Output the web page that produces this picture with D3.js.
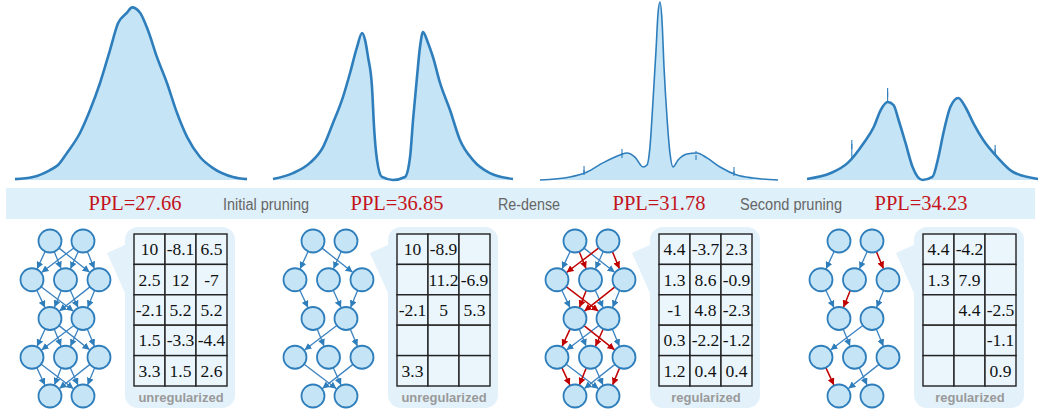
<!DOCTYPE html>
<html>
<head>
<meta charset="utf-8">
<script src="https://cdn.jsdelivr.net/npm/d3@7"></script>
<style>
  body { margin: 0; background: #fff; }
  svg { display: block; }
</style>
</head>
<body>
<svg id="fig" width="1039" height="412"></svg>
<script>
// weight distributions, [weight, density]
var dist1 = [[-1,0.005],[-0.845,0.017],[-0.698,0.056],[-0.629,0.084],[-0.552,0.152],[-0.44,0.264],[-0.353,0.393],[-0.267,0.545],[-0.181,0.73],[-0.112,0.88],[-0.034,0.94],[0.009,0.97],[0.078,0.94],[0.147,0.84],[0.224,0.69],[0.31,0.545],[0.397,0.376],[0.483,0.242],[0.595,0.129],[0.707,0.067],[0.879,0.017],[1,0.005]];
var dist2 = [[-1,0.006],[-0.833,0.039],[-0.692,0.096],[-0.583,0.185],[-0.5,0.32],[-0.417,0.466],[-0.358,0.601],[-0.3,0.747],[-0.258,0.826],[-0.233,0.787],[-0.208,0.691],[-0.175,0.522],[-0.158,0.298],[-0.133,0.112],[-0.092,0.017],[0,0.0],[0.1,0.017],[0.142,0.129],[0.167,0.337],[0.2,0.579],[0.225,0.747],[0.25,0.831],[0.292,0.77],[0.333,0.691],[0.392,0.545],[0.475,0.393],[0.558,0.225],[0.667,0.112],[0.808,0.039],[1,0.006]];
var dist3 = [[-1,0],[-0.748,0.017],[-0.605,0.045],[-0.471,0.096],[-0.328,0.14],[-0.269,0.152],[-0.202,0.129],[-0.134,0.073],[-0.101,0.084],[-0.076,0.185],[-0.05,0.449],[-0.025,0.73],[-0.008,0.938],[0.008,1.0],[0.025,0.899],[0.042,0.635],[0.067,0.354],[0.092,0.152],[0.118,0.073],[0.16,0.112],[0.235,0.146],[0.319,0.152],[0.403,0.124],[0.513,0.073],[0.655,0.028],[0.79,0.011],[1,0]];
var dist4 = [[-1,0.006],[-0.793,0.039],[-0.647,0.096],[-0.509,0.208],[-0.422,0.298],[-0.362,0.393],[-0.302,0.438],[-0.25,0.421],[-0.207,0.337],[-0.147,0.208],[-0.086,0.073],[0,0],[0.086,0.017],[0.138,0.129],[0.181,0.264],[0.241,0.41],[0.31,0.461],[0.371,0.41],[0.44,0.32],[0.526,0.225],[0.647,0.129],[0.784,0.045],[1,0.006]];
// isolated spikes in the histograms, [weight, top density]
var spikes3 = [[-0.63,0.079],[-0.311,0.174],[0.311,0.163],[0.63,0.073]];
var spikes4 = [[-0.612,0.225],[-0.302,0.517],[0.629,0.197]];

var pplValues = ["27.66", "36.85", "31.78", "34.23"];
var stageLabels = ["Initial pruning", "Re-dense", "Second pruning"];
var matrixTags = ["unregularized", "unregularized", "regularized", "regularized"];

// weight matrices (empty string = pruned)
var mat1 = [["10","-8.1","6.5"],["2.5","12","-7"],["-2.1","5.2","5.2"],["1.5","-3.3","-4.4"],["3.3","1.5","2.6"]];
var mat2 = [["10","-8.9",""],["","11.2","-6.9"],["-2.1","5","5.3"],["","",""],["3.3","",""]];
var mat3 = [["4.4","-3.7","2.3"],["1.3","8.6","-0.9"],["-1","4.8","-2.3"],["0.3","-2.2","-1.2"],["1.2","0.4","0.4"]];
var mat4 = [["4.4","-4.2",""],["1.3","7.9",""],["","4.4","-2.5"],["","","-1.1"],["","","0.9"]];

// network layers and edges: [fromLayer, fromNode, toNode, red?]
var layerSizes = [2, 3, 2, 3, 2];
var edges1 = [];
layerSizes.slice(0, 4).forEach(function(n, l) {
  for (var a = 0; a < n; a++)
    for (var b = 0; b < layerSizes[l + 1]; b++) edges1.push([l, a, b, 0]);
});
var edges2 = [[0,0,0,0],[0,0,2,0],[0,1,1,0],[1,0,0,0],[1,1,1,0],[1,2,1,0],[2,0,1,0],[2,1,0,0],[2,1,2,0],[3,0,1,0],[3,1,1,0],[3,2,0,0]];
var edges3 = [[0,0,0,0],[0,0,1,1],[0,0,2,0],[0,1,0,1],[0,1,1,0],[0,1,2,1],
              [1,0,0,0],[1,0,1,1],[1,1,0,1],[1,1,1,0],[1,2,0,1],[1,2,1,0],
              [2,0,0,1],[2,0,1,0],[2,0,2,1],[2,1,0,0],[2,1,1,1],[2,1,2,0],
              [3,0,0,1],[3,0,1,0],[3,1,0,1],[3,1,1,0],[3,2,0,0],[3,2,1,1]];
var edges4 = [[0,0,0,0],[0,1,1,0],[0,1,2,1],[1,0,0,0],[1,1,0,1],[1,2,1,0],[2,1,0,0],[2,0,1,0],[2,1,2,0],[3,0,0,1],[3,2,0,0],[3,1,1,0]];

var dists = [dist1, dist2, dist3, dist4];
var spikes = [[], [], spikes3, spikes4];
var mats = [mat1, mat2, mat3, mat4];
var edgeSets = [edges1, edges2, edges3, edges4];

var blue = "#2f7ebc", fillBlue = "#c5e4f5", red = "#c00000";
var svg = d3.select("#fig");

// ---- top: histograms
var distRanges = [[15, 247], [273, 513], [540, 778], [807, 1038]];
var y = d3.scaleLinear().domain([0, 1]).range([180, 2]);

dists.forEach(function(d, i) {
  var x = d3.scaleLinear().domain([-1, 1]).range(distRanges[i]);
  var area = d3.area().curve(d3.curveMonotoneX)
      .x(function(p) { return x(p[0]); })
      .y0(y(0)).y1(function(p) { return y(p[1]); });
  var line = d3.line().curve(d3.curveMonotoneX)
      .x(function(p) { return x(p[0]); })
      .y(function(p) { return y(p[1]); });
  // spikes go first so the fill hides the part under the curve
  svg.selectAll(null).data(spikes[i]).enter().append("line")
      .attr("x1", function(p) { return x(p[0]); })
      .attr("x2", function(p) { return x(p[0]); })
      .attr("y1", function(p) { return y(p[1]) ; })
      .attr("y2", y(0))
      .attr("stroke", blue).attr("stroke-width", 1.1);
  svg.append("path").attr("d", area(d)).attr("fill", fillBlue);
  svg.append("path").attr("d", line(d)).attr("fill", "none")
      .attr("stroke", blue).attr("stroke-width", i == 2 ? 1.6 : 2.6)
      .attr("stroke-linejoin", "round");
  svg.selectAll(null).data(spikes[i]).enter().append("line")
      .attr("x1", function(p) { return x(p[0]); })
      .attr("x2", function(p) { return x(p[0]); })
      .attr("y1", function(p) { return y(p[1]) + 4; })
      .attr("y2", function(p) { return y(p[1]) + 9; })
      .attr("stroke", blue).attr("stroke-width", 1.1);
});

// ---- middle band
svg.append("rect").attr("x", 6).attr("y", 188).attr("width", 1029).attr("height", 31)
    .attr("fill", "#def0fa");

var pplX = [135, 397, 659, 921];
svg.selectAll(".ppl").data(pplValues).enter().append("text")
    .attr("class", "ppl")
    .attr("x", function(d, i) { return pplX[i]; })
    .attr("y", 210)
    .attr("text-anchor", "middle")
    .style("font-family", "'Liberation Serif', 'Times New Roman', serif")
    .style("font-size", "20.5px")
    .attr("fill", "#c4141b")
    .text(function(d) { return "PPL=" + d; });

var stageX = [266, 529, 791], stageW = [86, 62, 102];
svg.selectAll(".stage").data(stageLabels).enter().append("text")
    .attr("class", "stage")
    .attr("x", function(d, i) { return stageX[i]; })
    .attr("y", 210)
    .attr("text-anchor", "middle")
    .attr("textLength", function(d, i) { return stageW[i]; })
    .attr("lengthAdjust", "spacingAndGlyphs")
    .style("font-family", "'Liberation Sans', Arial, sans-serif")
    .style("font-size", "16px")
    .attr("fill", "#666")
    .text(function(d) { return d; });

// ---- bottom: networks + matrices
var defs = svg.append("defs");
[["arrB", blue], ["arrR", red]].forEach(function(m) {
  defs.append("marker").attr("id", m[0])
      .attr("viewBox", "0 0 10 10").attr("refX", 10).attr("refY", 5)
      .attr("markerWidth", 7).attr("markerHeight", 7)
      .attr("markerUnits", "userSpaceOnUse")
      .attr("orient", "auto")
    .append("path").attr("d", "M0,0L10,5L0,10z").attr("fill", m[1]);
});

var offsets = [0, 263, 525, 789];
var layerY = d3.scalePoint().domain(d3.range(5)).range([241, 396]);
var x2 = d3.scalePoint().domain([0, 1]).range([50, 83]);
var x3 = d3.scalePoint().domain([0, 1, 2]).range([32, 99]);
var r = 11.5;

function nodeX(l, k) { return layerSizes[l] == 2 ? x2(k) : x3(k); }

var colX = d3.scaleBand().domain([0, 1, 2]).range([134, 227]);
var rowY = d3.scaleBand().domain(d3.range(5)).range([234, 386]);

offsets.forEach(function(off, i) {
  var g = svg.append("g").attr("transform", "translate(" + off + ",0)");

  // callout bubble
  g.append("path").attr("d", "M107,253L127,244L129,302Z").attr("fill", "#e3f1fa");
  g.append("rect").attr("x", 125).attr("y", 227).attr("width", 110).attr("height", 181)
      .attr("rx", 13).attr("fill", "#e3f1fa");

  // matrix
  var cells = [];
  mats[i].forEach(function(row, ri) { row.forEach(function(v, ci) { cells.push({r: ri, c: ci, v: v}); }); });
  g.selectAll(".cell").data(cells).enter().append("rect")
      .attr("x", function(d) { return colX(d.c); })
      .attr("y", function(d) { return rowY(d.r); })
      .attr("width", colX.bandwidth()).attr("height", rowY.bandwidth())
      .attr("fill", "#eaf5fc").attr("stroke", "#222").attr("stroke-width", 1.4);
  g.selectAll(".val").data(cells).enter().append("text")
      .attr("x", function(d) { return colX(d.c) + colX.bandwidth() / 2; })
      .attr("y", function(d) { return rowY(d.r) + rowY.bandwidth() / 2 + 6; })
      .attr("text-anchor", "middle")
      .style("font-family", "'Liberation Serif', 'Times New Roman', serif")
      .style("font-size", "17.5px")
      .attr("fill", "#111")
      .text(function(d) { return d.v; });
  g.append("text").attr("x", 181).attr("y", 402).attr("text-anchor", "middle")
      .style("font-family", "'Liberation Sans', Arial, sans-serif")
      .style("font-size", "13px").style("font-weight", "bold")
      .attr("fill", "#999")
      .text(matrixTags[i]);

  // edges, blue under red
  var es = edgeSets[i].slice().sort(function(a, b) { return a[3] - b[3]; });
  g.selectAll(".edge").data(es).enter().append("line")
      .each(function(e) {
        var xa = nodeX(e[0], e[1]), ya = layerY(e[0]);
        var xb = nodeX(e[0] + 1, e[2]), yb = layerY(e[0] + 1);
        var dx = xb - xa, dy = yb - ya, len = Math.sqrt(dx * dx + dy * dy);
        d3.select(this)
          .attr("x1", xa + dx / len * r).attr("y1", ya + dy / len * r)
          .attr("x2", xb - dx / len * (r + 0.5)).attr("y2", yb - dy / len * (r + 0.5));
      })
      .attr("stroke", function(e) { return e[3] ? red : "#3b82c0"; })
      .attr("stroke-width", function(e) { return e[3] ? 1.5 : 1.3; })
      .attr("marker-end", function(e) { return e[3] ? "url(#arrR)" : "url(#arrB)"; });

  // nodes
  var nodes = [];
  layerSizes.forEach(function(n, l) { for (var k = 0; k < n; k++) nodes.push([l, k]); });
  g.selectAll(".node").data(nodes).enter().append("circle")
      .attr("cx", function(d) { return nodeX(d[0], d[1]); })
      .attr("cy", function(d) { return layerY(d[0]); })
      .attr("r", r)
      .attr("fill", fillBlue).attr("stroke", blue).attr("stroke-width", 1.8);
});
</script>
</body>
</html>
